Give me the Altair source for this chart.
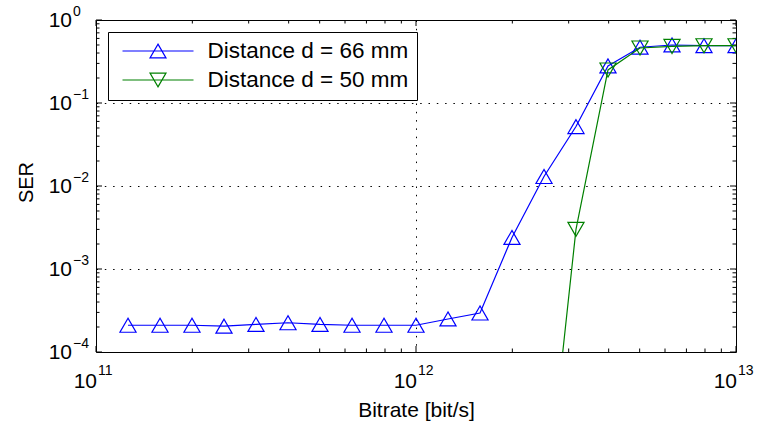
import altair as alt
import pandas as pd

FONT = "Liberation Sans"

# ---------------- data ----------------
bitrate = [1.259e11, 1.585e11, 1.995e11, 2.512e11, 3.162e11, 3.981e11, 5.012e11, 6.310e11,
           7.943e11, 1.0e12, 1.259e12, 1.585e12, 1.995e12, 2.512e12, 3.162e12, 3.981e12,
           5.012e12, 6.310e12, 7.943e12, 1.0e13]
ser_66 = [2.1e-4, 2.1e-4, 2.1e-4, 2.05e-4, 2.15e-4, 2.25e-4, 2.15e-4, 2.1e-4, 2.1e-4, 2.1e-4,
          2.5e-4, 2.95e-4, 2.4e-3, 1.3e-2, 5.2e-2, 0.28, 0.47, 0.50, 0.49, 0.49]
bitrate_50 = [2.512e12, 3.162e12, 3.981e12, 5.012e12, 6.310e12, 7.943e12, 1.0e13]
ser_50 = [8e-7, 3.0e-3, 0.25, 0.46, 0.48, 0.49, 0.49]

series_names = ["Distance d = 66 mm", "Distance d = 50 mm"]
series_colors = ["#0000ff", "#008000"]

x_major = [1e11, 1e12, 1e13]
x_exp = ["11", "12", "13"]
x_minor = [2e11, 3e11, 4e11, 5e11, 6e11, 7e11, 8e11, 9e11,
           2e12, 3e12, 4e12, 5e12, 6e12, 7e12, 8e12, 9e12]
y_major = [1e-4, 1e-3, 1e-2, 1e-1, 1.0]
y_exp = ["\u22124", "\u22123", "\u22122", "\u22121", "0"]
y_minor = [2e-4, 3e-4, 4e-4, 5e-4, 6e-4, 7e-4, 8e-4, 9e-4,
           2e-3, 3e-3, 4e-3, 5e-3, 6e-3, 7e-3, 8e-3, 9e-3,
           2e-2, 3e-2, 4e-2, 5e-2, 6e-2, 7e-2, 8e-2, 9e-2,
           2e-1, 3e-1, 4e-1, 5e-1, 6e-1, 7e-1, 8e-1, 9e-1]

W, H = 640, 332

# ---------------- scales / axes ----------------
xs = alt.Scale(type="log", domain=[1e11, 1e13], nice=False)
ys = alt.Scale(type="log", domain=[1e-4, 1.0], nice=False)

x_axis = alt.Axis(values=[1e12], grid=True, gridDash=[1.5, 6.8], gridColor="black",
                  gridOpacity=1, gridWidth=1, ticks=False, labels=False, domain=False,
                  title="Bitrate [bit/s]", titleFont=FONT, titleFontSize=21,
                  titleFontWeight="normal", titleColor="black", titleX=W / 2, titleY=64,
                  titleBaseline="alphabetic", titleAlign="center")
y_axis = alt.Axis(values=[1e-3, 1e-2, 1e-1], grid=True, gridDash=[1.5, 6.8], gridColor="black",
                  gridOpacity=1, gridWidth=1, ticks=False, labels=False, domain=False,
                  title="SER", titleFont=FONT, titleFontSize=20, titleFontWeight="normal",
                  titleColor="black", titleX=-64, titleY=162, titleAngle=270,
                  titleBaseline="alphabetic", titleAlign="center")


def X():
    return alt.X("x:Q", scale=xs, axis=x_axis)


def Y():
    return alt.Y("y:Q", scale=ys, axis=y_axis)


df66 = pd.DataFrame({"x": bitrate, "y": ser_66})
df50 = pd.DataFrame({"x": bitrate_50, "y": ser_50})

# ---------------- ticks (inside, all four sides) ----------------
def xticks(vals, length):
    d = pd.DataFrame({"x": vals})
    bottom = alt.Chart(d).mark_rule(color="black", strokeWidth=1).encode(
        x=X(), y=alt.value(H), y2=alt.value(H - length))
    top = alt.Chart(d).mark_rule(color="black", strokeWidth=1).encode(
        x=X(), y=alt.value(0), y2=alt.value(length))
    return [bottom, top]


def yticks(vals, length):
    d = pd.DataFrame({"y": vals})
    left = alt.Chart(d).mark_rule(color="black", strokeWidth=1).encode(
        y=Y(), x=alt.value(0), x2=alt.value(length))
    right = alt.Chart(d).mark_rule(color="black", strokeWidth=1).encode(
        y=Y(), x=alt.value(W), x2=alt.value(W - length))
    return [left, right]


tick_layers = xticks(x_major, 6) + xticks(x_minor, 3.5) + yticks(y_major, 6) + yticks(y_minor, 3.5)

# ---------------- series ----------------
line66 = alt.Chart(df66).mark_line(color=series_colors[0], strokeWidth=1.2, clip=True).encode(x=X(), y=Y())
pts66 = alt.Chart(df66).mark_point(shape="triangle-up", size=260, filled=False, color=series_colors[0],
                                   strokeWidth=1.2, opacity=1, clip=True).encode(x=X(), y=Y())
line50 = alt.Chart(df50).mark_line(color=series_colors[1], strokeWidth=1.2, clip=True).encode(x=X(), y=Y())
pts50 = alt.Chart(df50).mark_point(shape="triangle-down", size=260, filled=False, color=series_colors[1],
                                   strokeWidth=1.2, opacity=1, clip=True).encode(x=X(), y=Y())

# ---------------- legend (line + marker symbol) ----------------
up_path = "M-1,0H1M0,-0.195L0.225,0.195L-0.225,0.195Z"
down_path = "M-1,0H1M0,0.195L0.225,-0.195L-0.225,-0.195Z"
leg = alt.Legend(title=None, orient="top-left", offset=12, padding=8, strokeColor="black",
                 fillColor="white", symbolSize=5041, symbolStrokeWidth=1.2, symbolOffset=5.5,
                 symbolFillColor="transparent",
                 labelOffset=13, labelFont=FONT, labelFontSize=22.5, labelColor="black",
                 labelLimit=400, clipHeight=22, rowPadding=6)
legend_layer = alt.Chart(pd.DataFrame({"series": series_names})).mark_point(
    filled=False, strokeWidth=1.2, opacity=1).encode(
    color=alt.Color("series:N", scale=alt.Scale(domain=series_names, range=series_colors), legend=leg),
    shape=alt.Shape("series:N", scale=alt.Scale(domain=series_names, range=[up_path, down_path]), legend=leg),
).transform_filter("false")

# ---------------- tick labels (10 with raised exponent) ----------------
xl = pd.DataFrame({"x": x_major, "e": x_exp})
x_base = alt.Chart(xl).mark_text(align="right", baseline="alphabetic", dx=1, font=FONT, fontSize=21,
                                 color="black").encode(x=X(), y=alt.value(H + 36), text=alt.value("10"))
x_sup = alt.Chart(xl).mark_text(align="left", baseline="alphabetic", dx=2, font=FONT, fontSize=14,
                                color="black").encode(x=X(), y=alt.value(H + 23), text="e:N")
yl = pd.DataFrame({"y": y_major, "e": y_exp})
y_base = alt.Chart(yl).mark_text(align="right", baseline="alphabetic", dy=7, font=FONT, fontSize=21,
                                 color="black").encode(y=Y(), x=alt.value(-24), text=alt.value("10"))
y_sup = alt.Chart(yl).mark_text(align="left", baseline="alphabetic", dy=-4, font=FONT, fontSize=14,
                                color="black").encode(y=Y(), x=alt.value(-23), text="e:N")

chart = alt.layer(
    *tick_layers, line66, pts66, line50, pts50, legend_layer, x_base, x_sup, y_base, y_sup
).properties(
    width=W, height=H,
    padding={"left": 96, "top": 20, "right": 24, "bottom": 73},
    autosize=alt.AutoSizeParams(type="none"),
    background="white",
).configure_view(stroke="black", strokeWidth=1)

chart.save("out.html", embed_options={"renderer": "svg", "actions": False})
